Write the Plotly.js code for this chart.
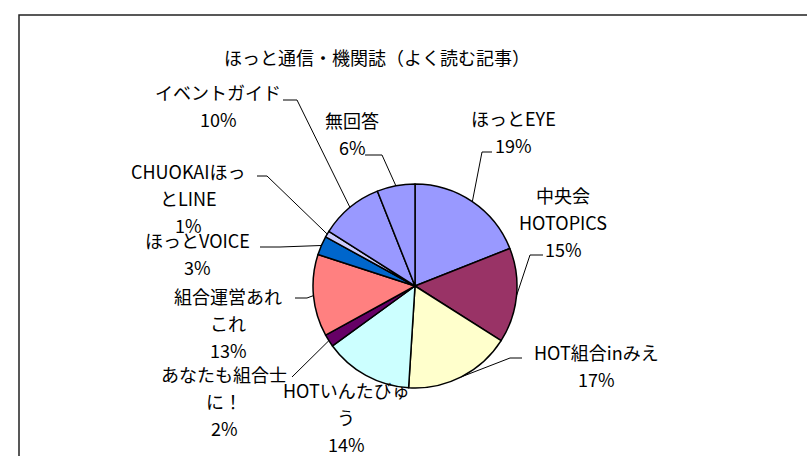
<!DOCTYPE html>
<html>
<head>
<meta charset="utf-8">
<script src="https://cdn.plot.ly/plotly-3.0.1.min.js"></script>
<style>html,body{margin:0;padding:0;background:#fff;}#chart{width:807px;height:456px;}</style>
</head>
<body>
<div id="chart"></div>
<script>
// ---- data ----
const categories = ['ほっとEYE','中央会HOTOPICS','HOT組合inみえ','HOTいんたびゅう','あなたも組合士に！','組合運営あれこれ','ほっとVOICE','CHUOKAIほっとLINE','イベントガイド','無回答'];
const values = [19, 15, 17, 14, 2, 13, 3, 1, 10, 6];
const titleText = 'ほっと通信・機関誌（よく読む記事）';

// ---- style / layout ----
const colors = ['#9999FF','#993366','#FFFFCC','#CCFFFF','#660066','#FF8080','#0066CC','#CCCCFF','#9999FF','#9999FF'];
const W = 807, H = 456;
const CX = 415, CY = 286, R = 102;
// wrapped label lines (category name split as in the picture)
const labelWrap = [['ほっとEYE'],['中央会','HOTOPICS'],['HOT組合inみえ'],['HOTいんたびゅ','う'],['あなたも組合士','に！'],['組合運営あれ','これ'],['ほっとVOICE'],['CHUOKAIほっ','とLINE'],['イベントガイド'],['無回答']];
// label block position: [centerX, firstLineY]
const labelPos = [[513,118],[563,195],[596,352],[346,390],[224,374],[228,296],[197,240],[188,171],[218,92],[352,120]];
// leader: [startX, startY, elbowX] or null
const leaders = [[492,152,482],[543,255,530],[522,358,510],null,[292,377,292],[295,298,307],[260,247,280],[257,176,267],[283,100,297],[365,155,382]];
const lineGap = 27;
const FONT = '"Noto Sans CJK JP", "Noto Sans", sans-serif';
const LABEL_SIZE = 18, TITLE_SIZE = 18;

const px = x => x / W;
const py = y => 1 - y / H;

const total = values.reduce((a,b)=>a+b,0);
const annotations = [];
const shapes = [];

annotations.push({x:px(377), y:py(57), xref:'paper', yref:'paper', text:titleText, showarrow:false,
  xanchor:'center', yanchor:'middle', font:{family:FONT, size:TITLE_SIZE, color:'#000'}});

let cum = 0;
values.forEach((v, i) => {
  const mid = (cum + v/2) / total * 2 * Math.PI;
  cum += v;
  const lines = labelWrap[i].concat([Math.round(v / total * 100) + '%']);
  lines.forEach((t, k) => {
    annotations.push({x:px(labelPos[i][0]), y:py(labelPos[i][1] + k*lineGap), xref:'paper', yref:'paper',
      text:t, showarrow:false, xanchor:'center', yanchor:'middle', font:{family:FONT, size:LABEL_SIZE, color:'#000'}});
  });
  const L = leaders[i];
  if (L) {
    const ex = CX + R * Math.sin(mid), ey = CY - R * Math.cos(mid);
    shapes.push({type:'path', xref:'paper', yref:'paper',
      path:`M ${px(L[0])} ${py(L[1])} L ${px(L[2])} ${py(L[1])} L ${px(ex)} ${py(ey)}`,
      line:{color:'#000', width:1}});
  }
});

shapes.push({type:'rect', xref:'paper', yref:'paper', x0:px(19), y0:-0.05, x1:1.05, y1:py(15),
  line:{color:'#222', width:1.5}, fillcolor:'rgba(0,0,0,0)', layer:'below'});

const trace = {
  type:'pie', labels:categories, values:values, sort:false, direction:'clockwise', rotation:0,
  marker:{colors:colors, line:{color:'#000', width:1.5}},
  textinfo:'none', hoverinfo:'label+percent', showlegend:false,
  domain:{x:[px(CX-R), px(CX+R)], y:[py(CY+R), py(CY-R)]}
};

Plotly.newPlot('chart', [trace], {
  width:W, height:H, margin:{l:0,r:0,t:0,b:0},
  paper_bgcolor:'#fff', plot_bgcolor:'#fff',
  annotations:annotations, shapes:shapes, showlegend:false
}, {displayModeBar:false, staticPlot:true});
</script>
</body>
</html>
